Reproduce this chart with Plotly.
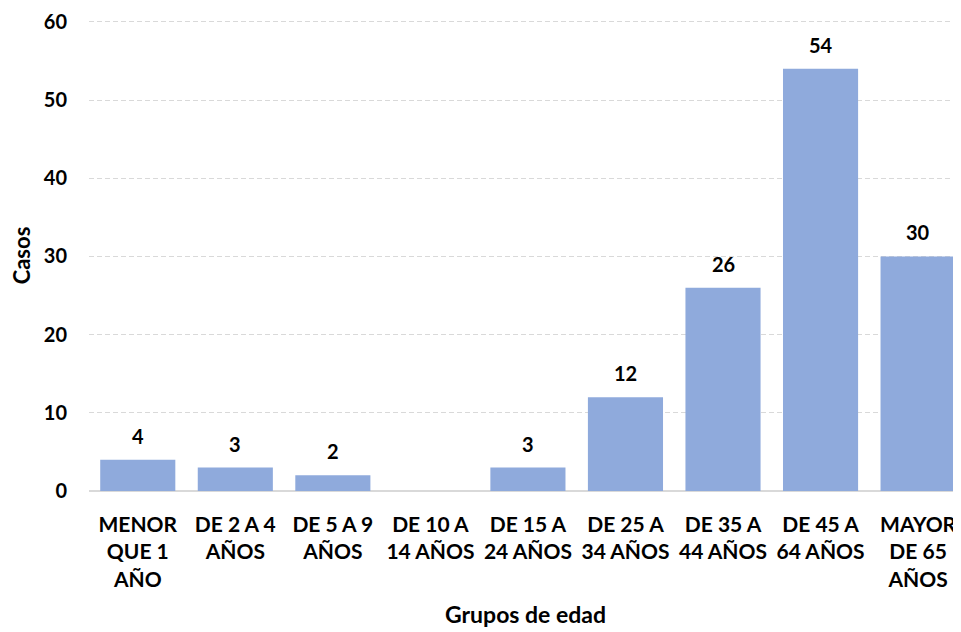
import plotly.graph_objects as go

categories = ["MENOR<br>QUE 1<br>AÑO", "DE 2 A 4<br>AÑOS", "DE 5 A 9<br>AÑOS", "DE 10 A<br>14 AÑOS",
              "DE 15 A<br>24 AÑOS", "DE 25 A<br>34 AÑOS", "DE 35 A<br>44 AÑOS", "DE 45 A<br>64 AÑOS",
              "MAYOR<br>DE 65<br>AÑOS"]
casos = [4, 3, 2, 0, 3, 12, 26, 54, 30]
labels = ["4", "3", "2", "", "3", "12", "26", "54", "30"]
y_ticks = [0, 10, 20, 30, 40, 50, 60]

FONT = "Lato, 'Open Sans', sans-serif"
xs = list(range(len(categories)))

fig = go.Figure(go.Bar(
    x=xs, y=casos,
    marker=dict(color="#8FAADC", line=dict(width=0)),
    hoverinfo="x+y",
))

for i, (v, t) in enumerate(zip(casos, labels)):
    if t:
        fig.add_annotation(x=xs[i], y=v, text=t, showarrow=False, yanchor="bottom",
                           yshift=10, font=dict(size=20, family=FONT, color="#000000", weight="bold"))

fig.add_annotation(text="Grupos de edad", xref="paper", yref="paper", x=0.5, y=-0.262,
                   xanchor="center", yanchor="middle", showarrow=False,
                   font=dict(size=23, family=FONT, color="#000000", weight="bold"))

fig.update_layout(
    width=953, height=624,
    margin=dict(l=81, r=0, t=12, b=141, autoexpand=False),
    paper_bgcolor="white", plot_bgcolor="white",
    bargap=0.23,
    showlegend=False,
    font=dict(family=FONT, color="#000000", size=16),
)
fig.update_xaxes(
    tickmode="array", tickvals=xs, ticktext=categories,
    range=[-0.5, 8.44], showgrid=False, showline=False, ticks="", automargin=False,
    ticklabelstandoff=19,
    tickfont=dict(size=21, family=FONT, weight="bold"),
)
fig.update_yaxes(
    range=[0, 60.25], tickvals=y_ticks, showgrid=True, gridcolor="#D9D9D9", griddash="5px,3px", gridwidth=1,
    zeroline=True, zerolinecolor="#D9D9D9", zerolinewidth=1.5, automargin=False,
    showline=False, ticks="", ticklabelstandoff=21,
    tickfont=dict(size=20, family=FONT, weight="bold"),
    title=dict(text="Casos", font=dict(size=22, family=FONT, weight="bold")),
)
fig.write_html("out.html")
